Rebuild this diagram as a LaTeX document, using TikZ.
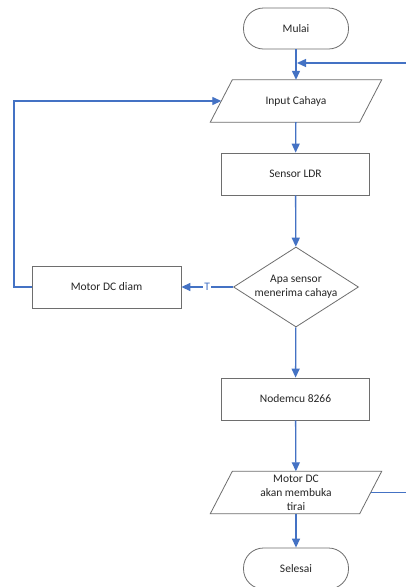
\documentclass[tikz,border=0pt]{standalone}
\usepackage{fontspec}
\setmainfont{Carlito}
\usetikzlibrary{shapes.geometric,arrows.meta}
\definecolor{flowblue}{HTML}{4472C4}
\definecolor{edgegray}{HTML}{6E6E6E}
\definecolor{textgray}{HTML}{262626}
\begin{document}
\begin{tikzpicture}[x=1pt,y=-1pt,
  font=\fontsize{11.5}{14}\selectfont,
  shapeline/.style={draw=edgegray, line width=0.8pt},
  term/.style={shapeline, rounded corners=20pt, minimum width=105pt, minimum height=41pt, inner sep=0pt, text=textgray},
  procbox/.style={shapeline, minimum width=148pt, minimum height=42pt, inner sep=0pt, text=textgray},
  iobox/.style={minimum width=149pt, minimum height=42pt, inner sep=0pt, align=center, text=textgray},
  decision/.style={shapeline, diamond, minimum width=125pt, minimum height=80pt, inner sep=0pt},
  flow/.style={draw=flowblue, line width=1.3pt, -{Triangle[length=9pt,width=8pt]}},
  tlabel/.style={fill=white, inner sep=1pt, text=flowblue}]
\useasboundingbox (0,0) rectangle (406,587);
\clip (0,0) rectangle (406,587);
\fill[white] (0,0) rectangle (406,587);

\node[term] (start) at (296,28.5) {Mulai};
\node[iobox] (inp) at (296,101) {Input Cahaya};
\node[procbox] (ldr) at (295.5,174) {Sensor LDR};
\node[decision] (dec) at (296,287) {};
\node[align=center, text=textgray] (dectext) at (dec.center) {Apa sensor\\menerima cahaya};
\node[procbox, minimum width=149pt] (diam) at (106.5,287) {Motor DC diam};
\node[procbox] (mcu) at (295.5,399) {Nodemcu 8266};
\node[iobox] (mot) at (296,492.5) {Motor DC\\akan membuka\\tirai};
\node[term] (stop) at (296,568.5) {Selesai};
\coordinate (join) at (297,63);
\coordinate (loopL) at (14,287);
\coordinate (loopR) at (430,492.5);

\foreach \n in {inp,mot}{
  \draw[shapeline] ([xshift=11pt]\n.north west) -- ([xshift=11pt]\n.north east)
    -- ([xshift=-11pt]\n.south east) -- ([xshift=-11pt]\n.south west) -- cycle;
}

\draw[flow] (start) -- (inp);
\draw[flow] (inp) -- (ldr);
\draw[flow] (ldr) -- (dec);
\draw[flow] (dec) -- node[tlabel]{T} (diam);
\draw[flow] (diam.west) -- (loopL) |- (inp.west);
\draw[flow] (dec) -- (mcu);
\draw[flow] (mcu) -- (mot);
\draw[flow] (mot) -- (stop);
\draw[flow] (mot.east) -- (loopR) |- (join);
\end{tikzpicture}
\end{document}
